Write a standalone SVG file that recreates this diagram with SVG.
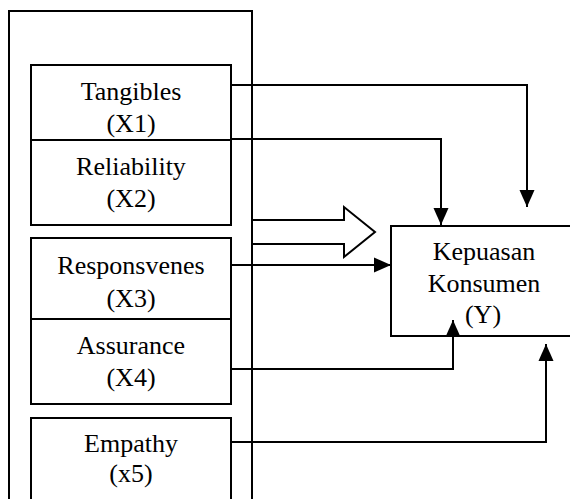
<svg xmlns="http://www.w3.org/2000/svg" width="570" height="499" viewBox="0 0 570 499">
  <style>
    .box { fill: #fff; stroke: #000; stroke-width: 2; }
    .ln { fill: none; stroke: #000; stroke-width: 2; }
    .t { font-family: "Liberation Serif", "Times New Roman", serif; font-size: 26px; fill: #000; text-anchor: middle; }
  </style>
  <defs>
    <marker id="ah" markerUnits="userSpaceOnUse" markerWidth="17" markerHeight="17" viewBox="0 0 17 16" refX="17" refY="8" orient="auto">
      <path d="M0,0.5 L17,8 L0,15.5 Z" fill="#000"/>
    </marker>
  </defs>
  <rect width="570" height="499" fill="#fff"/>
  <g id="outer">
    <path class="ln" d="M9,500 V11 H252 V500"/>
  </g>
  <g id="x1">
    <rect class="box" x="31" y="65" width="200" height="75"/>
    <text class="t" x="131" y="100">Tangibles</text>
    <text class="t" x="131" y="132">(X1)</text>
  </g>
  <g id="x2">
    <rect class="box" x="31" y="140" width="200" height="85"/>
    <text class="t" x="131" y="175">Reliability</text>
    <text class="t" x="131" y="207">(X2)</text>
  </g>
  <g id="x3">
    <rect class="box" x="31" y="238" width="200" height="81"/>
    <text class="t" x="131" y="274">Responsvenes</text>
    <text class="t" x="131" y="307">(X3)</text>
  </g>
  <g id="x4">
    <rect class="box" x="31" y="319" width="200" height="85"/>
    <text class="t" x="131" y="354">Assurance</text>
    <text class="t" x="131" y="386">(X4)</text>
  </g>
  <g id="x5">
    <path class="box" d="M31,500 V418 H231 V500"/>
    <text class="t" x="131" y="452">Empathy</text>
    <text class="t" x="131" y="482">(x5)</text>
  </g>
  <g id="y">
    <path class="box" d="M572,226 H391 V336 H572"/>
    <text class="t" x="484" y="260">Kepuasan</text>
    <text class="t" x="484" y="292">Konsumen</text>
    <text class="t" x="483" y="323">(Y)</text>
  </g>
  <g id="connectors">
    <path class="ln" d="M232,85 H527 V207" marker-end="url(#ah)"/>
    <path class="ln" d="M232,139 H441 V225" marker-end="url(#ah)"/>
    <path class="ln" fill="#fff" d="M252,220 H344 V207 L375,232 L344,257 V244 H252"/>
    <path class="ln" d="M232,265 H391" marker-end="url(#ah)"/>
    <path class="ln" d="M232,369 H453 V320" marker-end="url(#ah)"/>
    <path class="ln" d="M232,442 H546 V344" marker-end="url(#ah)"/>
  </g>
</svg>
